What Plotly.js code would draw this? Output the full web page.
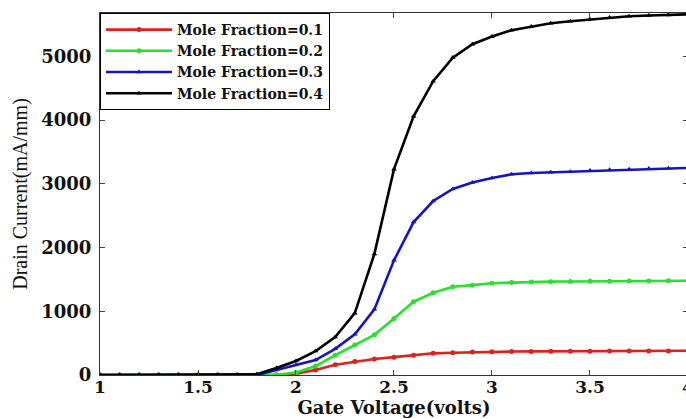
<!DOCTYPE html>
<html><head><meta charset="utf-8">
<script src="https://cdn.plot.ly/plotly-3.0.1.min.js"></script>
<style>html,body{margin:0;padding:0;overflow:hidden;background:#fff;}#chart{width:692px;height:419px;}</style>
</head><body><div id="chart"></div>
<script>
const gateVoltage = [1.0,1.1,1.2,1.3,1.4,1.5,1.6,1.7,1.8,1.9,2.0,2.1,2.2,2.3,2.4,2.5,2.6,2.7,2.8,2.9,3.0,3.1,3.2,3.3,3.4,3.5,3.6,3.7,3.8,3.9,4.0];
const mf01 = [0,0,0,0,0,0,0,0,0,0,20,80,160,210,250,280,310,340,350,360,365,368,370,372,373,374,375,376,377,378,380];
const mf02 = [0,0,0,0,0,0,0,0,0,5,40,140,310,470,630,885,1150,1290,1385,1410,1440,1450,1460,1465,1468,1470,1472,1474,1476,1478,1480];
const mf03 = [0,0,0,0,0,0,0,0,0,80,160,235,410,640,1030,1800,2400,2730,2920,3020,3090,3150,3170,3180,3190,3210,3220,3230,3240,3245,3250];
const mf04 = [0,0,0,0,0,0,0,0,10,110,220,376,595,970,1900,3230,4060,4610,4980,5190,5310,5410,5470,5520,5550,5580,5610,5630,5640,5650,5660];
const seriesNames = ["Mole Fraction=0.1","Mole Fraction=0.2","Mole Fraction=0.3","Mole Fraction=0.4"];
const xTicks = [1,1.5,2,2.5,3,3.5,4];
const yTicks = [0,1000,2000,3000,4000,5000];

const colors = ["#dc221c","#2ae02e","#1414c0","#000000"];
const symbols = ["circle","circle","triangle-up","triangle-up"];
const ys = [mf01,mf02,mf03,mf04];
const data = ys.map((y,i)=>({
  x: gateVoltage, y: y, name: seriesNames[i], type:"scatter", mode:"lines+markers",
  legendgroup: "g"+i,
  line:{color:colors[i], width:2.6}, marker:{color:colors[i], size:5, symbol:symbols[i]}
}));
const serif = "Liberation Serif, Times New Roman, serif";
const wide = "DejaVu Serif, serif";
const layout = {
  width: 692, height: 419,
  margin:{l:100, r:4, t:13, b:44},
  paper_bgcolor:"#fff", plot_bgcolor:"#fff",
  showlegend:true,
  legend:{x:0, y:1.0, xanchor:"left", yanchor:"top", bordercolor:"#000", borderwidth:1,
          bgcolor:"#fff", font:{family:wide, size:14, color:"#111", weight:"bold"},
          tracegroupgap:0, itemwidth:66},
  xaxis:{range:[1,4.0001], tickvals:xTicks, ticktext:xTicks.map(String), ticks:"inside", ticklen:5,
         showline:true, linecolor:"#333", linewidth:1, mirror:"ticks", showgrid:false, zeroline:false,
         ticklabeloverflow:"allow", ticklabelstandoff:-3,
         tickfont:{family:wide, size:17, color:"#111", weight:"bold"},
         title:{text:"Gate Voltage(volts)", font:{family:wide, size:18, color:"#111", weight:"bold"}, standoff:2}},
  yaxis:{range:[0,5680], tickvals:yTicks, ticktext:yTicks.map(String), ticks:"inside", ticklen:5,
         showline:true, linecolor:"#333", linewidth:1, mirror:"ticks", showgrid:false, zeroline:false,
         ticklabelstandoff:4,
         tickfont:{family:wide, size:18, color:"#111", weight:"bold"},
         title:{text:"Drain Current(mA/mm)", font:{family:serif, size:20, color:"#111"}, standoff:8}}
};
Plotly.newPlot("chart", data, layout, {displayModeBar:false, staticPlot:true});
</script></body></html>
